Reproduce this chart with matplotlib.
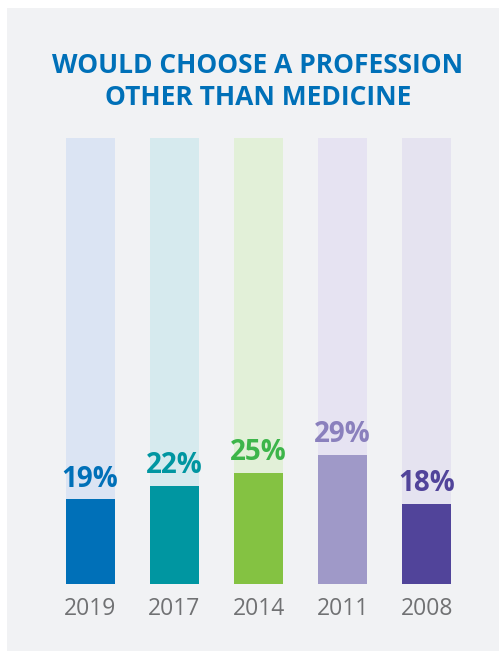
import matplotlib
matplotlib.use('Agg')
from matplotlib import pyplot as plt
from matplotlib.patches import Rectangle

# values
years = ['2019', '2017', '2014', '2011', '2008']
values = [19, 22, 25, 29, 18]
full_scale = 100

bar_colors = ['#0070b8', '#0096a1', '#84c242', '#9f99c8', '#51449a']
track_colors = ['#dbe4f3', '#d6eaee', '#e2f0d8', '#e6e3f2', '#e5e3f0']
label_colors = ['#0070b8', '#0096a1', '#3db54a', '#8a80bd', '#51449a']

plt.rcParams['font.family'] = ['Open Sans', 'DejaVu Sans']

fig = plt.figure(figsize=(4.99, 6.54), dpi=100)
fig.patch.set_facecolor('white')

# light grey panel behind everything
fig.patches.append(Rectangle((7 / 499, 1 - 651 / 654), 1, 643 / 654,
                             transform=fig.transFigure, facecolor='#f1f2f4',
                             edgecolor='none', zorder=-1))

ax = fig.add_axes([0.0964, 1 - 584 / 654, 0.8433, (584 - 138) / 654])
ax.set_facecolor('none')
ax.set_zorder(1)

x = list(range(len(years)))
ax.bar(x, [full_scale] * len(years), width=0.582, color=track_colors, zorder=1)
ax.bar(x, values, width=0.582, color=bar_colors, zorder=2)

for i, v in enumerate(values):
    ax.annotate('%d%%' % v, (i, v), xytext=(0, 9.0), textcoords='offset points',
                ha='center', va='baseline', fontsize=20, fontweight='bold',
                color=label_colors[i], annotation_clip=False)
    ax.annotate(years[i], (i, 0), xytext=(0, -22.3), textcoords='offset points',
                ha='center', va='baseline', fontsize=16.5, color='#707173',
                annotation_clip=False)

ax.set_xlim(-0.5, 4.5)
ax.set_ylim(0, full_scale)
ax.axis('off')

fig.text(258 / 499, 1 - 73 / 654, 'WOULD CHOOSE A PROFESSION', ha='center',
         va='baseline', fontsize=19, fontweight='bold', color='#0070b8')
fig.text(258 / 499, 1 - 105 / 654, 'OTHER THAN MEDICINE', ha='center',
         va='baseline', fontsize=19, fontweight='bold', color='#0070b8')

fig.savefig('out.png', dpi=100)
